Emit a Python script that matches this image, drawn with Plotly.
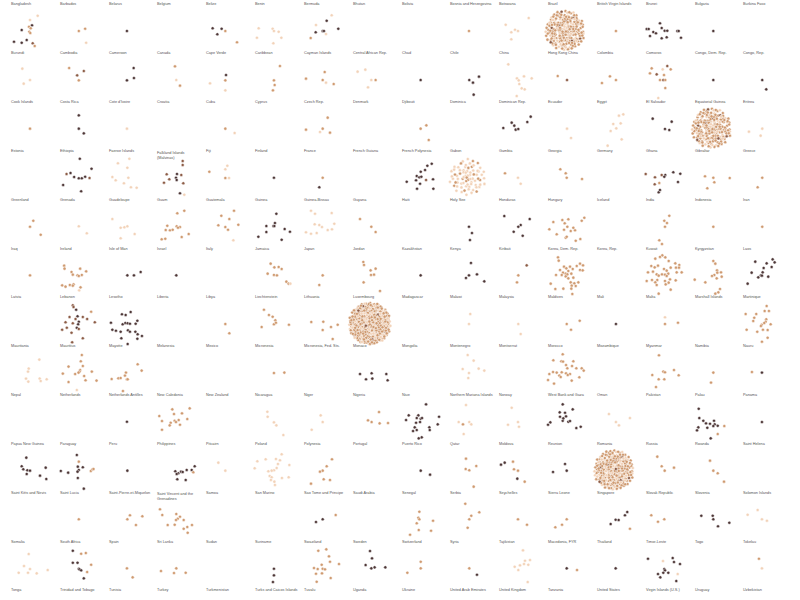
import math
import plotly.graph_objects as go

# ---------------- labels (13 rows x 16 columns) ----------------
NAMES_01 = ["Bangladesh", "Barbados", "Belarus", "Belgium", "Belize", "Benin", "Bermuda", "Bhutan",
            "Bolivia", "Bosnia and Herzegovina", "Botswana", "Brazil", "British Virgin Islands", "Brunei", "Bulgaria", "Burkina Faso"]
NAMES_02 = ["Burundi", "Cambodia", "Cameroon", "Canada", "Cape Verde", "Caribbean", "Cayman Islands", "Central African Rep.",
            "Chad", "Chile", "China", "Hong Kong China", "Colombia", "Comoros", "Congo, Dem. Rep.", "Congo, Rep."]
NAMES_03 = ["Cook Islands", "Costa Rica", "Cote d'Ivoire", "Croatia", "Cuba", "Cyprus", "Czech Rep.", "Denmark",
            "Djibouti", "Dominica", "Dominican Rep.", "Ecuador", "Egypt", "El Salvador", "Equatorial Guinea", "Eritrea"]
NAMES_04 = ["Estonia", "Ethiopia", "Faeroe Islands", "Falkland Islands<br>(Malvinas)", "Fiji", "Finland", "France", "French Guiana",
            "French Polynesia", "Gabon", "Gambia", "Georgia", "Germany", "Ghana", "Gibraltar", "Greece"]
NAMES_05 = ["Greenland", "Grenada", "Guadeloupe", "Guam", "Guatemala", "Guinea", "Guinea-Bissau", "Guyana",
            "Haiti", "Holy See", "Honduras", "Hungary", "Iceland", "India", "Indonesia", "Iran"]
NAMES_06 = ["Iraq", "Ireland", "Isle of Man", "Israel", "Italy", "Jamaica", "Japan", "Jordan",
            "Kazakhstan", "Kenya", "Kiribati", "Korea, Dem. Rep.", "Korea, Rep.", "Kuwait", "Kyrgyzstan", "Laos"]
NAMES_07 = ["Latvia", "Lebanon", "Lesotho", "Liberia", "Libya", "Liechtenstein", "Lithuania", "Luxembourg",
            "Madagascar", "Malawi", "Malaysia", "Maldives", "Mali", "Malta", "Marshall Islands", "Martinique"]
NAMES_08 = ["Mauritania", "Mauritius", "Mayotte", "Melanesia", "Mexico", "Micronesia", "Micronesia, Fed. Sts.", "Monaco",
            "Mongolia", "Montenegro", "Montserrat", "Morocco", "Mozambique", "Myanmar", "Namibia", "Nauru"]
NAMES_09 = ["Nepal", "Netherlands", "Netherlands Antilles", "New Caledonia", "New Zealand", "Nicaragua", "Niger", "Nigeria",
            "Niue", "Northern Mariana Islands", "Norway", "West Bank and Gaza", "Oman", "Pakistan", "Palau", "Panama"]
NAMES_10 = ["Papua New Guinea", "Paraguay", "Peru", "Philippines", "Pitcairn", "Poland", "Polynesia", "Portugal",
            "Puerto Rico", "Qatar", "Moldova", "Reunion", "Romania", "Russia", "Rwanda", "Saint Helena"]
NAMES_11 = ["Saint Kitts and Nevis", "Saint Lucia", "Saint-Pierre-et-Miquelon", "Saint Vincent and the<br>Grenadines", "Samoa",
            "San Marino", "Sao Tome and Principe", "Saudi Arabia",
            "Senegal", "Serbia", "Seychelles", "Sierra Leone", "Singapore", "Slovak Republic", "Slovenia", "Solomon Islands"]
NAMES_12 = ["Somalia", "South Africa", "Spain", "Sri Lanka", "Sudan", "Suriname", "Swaziland", "Sweden",
            "Switzerland", "Syria", "Tajikistan", "Macedonia, FYR", "Thailand", "Timor-Leste", "Togo", "Tokelau"]
NAMES_13 = ["Tonga", "Trinidad and Tobago", "Tunisia", "Turkey", "Turkmenistan", "Turks and Caicos Islands", "Tuvalu", "Uganda",
            "Ukraine", "United Arab Emirates", "United Kingdom", "Tanzania", "United States", "Virgin Islands (U.S.)", "Uruguay", "Uzbekistan"]

# ---------------- dots: (dx, dy, shade) per panel, dy grows downward ----------------
ROW_01 = [
    [(9.7,-14.8,'l'),(2,-10.5,'l'),(4,-5.2,'d'),(1,-3.8,'m'),(-6.3,-0.5,'d'),(2.7,-2.2,'m'),(1.3,1.2,'m'),(2.3,2.5,'m'),
     (-14,11.2,'d'),(-6.3,12.2,'d'),(-1.3,9.5,'d'),(4.7,12.8,'b'),(6.7,15.5,'m')],
    [(2,0.5,'m'),(8.3,-1.8,'m'),(9.3,12.2,'l')],
    [(1.3,0.5,'d')],
    [],
    [(-10.7,-2.2,'d'),(-1.7,-1.8,'d'),(-6,3.8,'d'),(2,0.5,'m'),(13.7,11.8,'m')],
    [(-13.5,-2.2,'l'),(0.5,-1.8,'l'),(1.8,0.5,'l'),(6.5,1.2,'l'),(-15.2,7.2,'l'),(9.2,7.2,'l'),(1.2,12.8,'l')],
    [(10.7,-15.2,'l'),(5.7,-9.8,'d'),(-5,-5.5,'l'),(-5.3,1.8,'d'),(1.7,0.5,'d'),(3,0.5,'d'),(5,3.5,'l'),(17.3,-1.8,'d'),(-10.3,7.5,'m')],
    [],
    [],
    [(1.5,0.5,'m')],
    [(12.4,-12.5,'l'),(-10.6,-5.8,'l'),(-1.3,-0.8,'l'),(1.7,0.5,'l'),(-5,1.8,'l'),(-5,8.8,'l')],
    [],
    [(2,0.5,'m')],
    [(-2.8,-7.2,'d'),(-16.1,-1.5,'d'),(-14.1,-1.5,'d'),(-9.5,1.5,'d'),(-6.8,2.8,'d'),(-1.1,-2.5,'d'),(1.9,0.2,'d'),
     (4.5,0.2,'d'),(14.5,0.5,'d'),(15.9,0.5,'d'),(-12.8,5.5,'d'),(-1.1,7.8,'d'),(3.9,6.8,'d'),(18.2,7.2,'d')],
    [(1.7,0.5,'d')],
    [],
]
ROW_02 = [
    [(-5.7,-10.7,'l'),(2,0.7,'l'),(-4.3,4.3,'l')],
    [(-7.7,-11.3,'m'),(7,-8.3,'b'),(0.3,-4,'b'),(2,1,'m')],
    [(8,-11.3,'d'),(8.3,-1.3,'d'),(1.3,1,'d')],
    [(0.5,-13,'m'),(1.8,0.7,'l'),(5.5,6.3,'m')],
    [(2.7,-4.3,'d'),(2,1,'m'),(-13.3,4,'l'),(2,11,'l')],
    [(7.8,-13.3,'m'),(1.8,1,'m'),(2.5,5.7,'m'),(0.8,11,'m')],
    [(3.7,-7.3,'m'),(-15,-0.7,'m'),(1.7,0.7,'m'),(5,3.3,'l'),(12.7,4.7,'m')],
    [(-4.5,-9.7,'l'),(-12.2,-7.7,'l'),(1.5,0.7,'l'),(5.8,0.7,'m'),(-1.8,8,'l')],
    [(2,0.7,'d')],
    [(1.8,0.7,'d'),(5.5,3.3,'d'),(11.5,-2.7,'d'),(6.2,15.3,'d')],
    [(-8,-15,'l'),(0.7,-1,'l'),(7.7,-3,'l'),(15.4,-1,'l'),(2.4,1,'l'),(3,4.7,'l'),(5.4,9,'l'),(8.4,10,'l'),(0.4,16.7,'l')],
    [(-7.4,-3.3,'m'),(1.9,0.7,'b')],
    [(-4,-3,'m'),(-12,3.7,'m'),(2,0.7,'m')],
    [(4.5,-13.3,'b'),(7.9,-10,'m'),(-0.1,-10,'l'),(-11.1,-11,'m'),(-12.8,-6,'m'),(-6.1,-5,'b'),(1.2,-4.3,'m'),
     (0.5,0.7,'b'),(2.5,0.7,'m'),(-2.8,0.7,'m'),(2.5,8.7,'m'),(-4.5,18.7,'l')],
    [(1.7,0.7,'d')],
    [(1.8,0.7,'d'),(5.8,10,'d')],
]
ROW_03 = [
    [(2,0.5,'m')],
    [(2,-12.8,'d'),(2,0.5,'d'),(7,5.2,'d')],
    [(1.3,0.5,'l')],
    [],
    [(2,0.5,'m'),(11.3,4.8,'l')],
    [],
    [(6.7,-10.5,'m'),(-15,1.5,'m'),(1.7,0.5,'m'),(-1,3.8,'l'),(9,4.5,'m')],
    [],
    [(7.7,-2.8,'m'),(2,0.5,'m'),(10.1,11.8,'m')],
    [],
    [(14.4,-11.5,'d'),(11,-6.2,'d'),(-4.6,-5.5,'d'),(-2,-2.5,'d'),(-13,-0.2,'d'),(-0.6,1.5,'d'),(2,0.8,'d')],
    [(1.9,0.5,'l'),(5.9,9.8,'l')],
    [(9.3,-13.8,'l'),(5,-12.5,'l'),(6.7,-4.8,'l'),(-0.7,-4.2,'l'),(2.3,0.2,'l'),(-3.3,2.8,'l'),(7.7,11.2,'l'),(-6.3,17.5,'l')],
    [(-10.1,-9.5,'d'),(8.9,-6.5,'d'),(2.2,0.8,'d'),(6.5,1.8,'d')],
    [],
    [(1.8,0.5,'l'),(-11.5,3.5,'l'),(0.2,7.5,'l')],
]
ROW_04 = [
    [],
    [(3,-18.3,'d'),(14.7,-8.3,'d'),(-6.3,-4,'d'),(-10.3,-3,'b'),(-2.7,0,'d'),(2,1.3,'d'),(5,1.3,'d'),(8.3,-0.3,'d'),
     (12.7,1,'b'),(-13.7,8,'d'),(4.3,14.3,'d')],
    [(3.7,-18.3,'l'),(-7.7,-13.7,'l'),(1.7,-9.3,'l'),(-13.3,0,'l'),(-10,3.3,'l'),(2.7,0.7,'l'),(-1.7,6.3,'l'),(5.3,10.3,'l'),(11,10.7,'l')],
    [(8.2,-16,'b'),(8.2,-12,'b'),(-7.8,-2.7,'b'),(2.5,-3,'d'),(6.8,-2,'b'),(1.5,0.7,'d'),(-5.2,2.3,'b'),(-10.5,5.7,'b'),
     (2.2,3,'d'),(8.8,6.3,'b'),(5.5,16.3,'d'),(9.8,17.7,'l')],
    [(4,-11.3,'l'),(2,-7.7,'l'),(-14,-5.3,'m'),(2,1,'m'),(5.7,1,'l')],
    [(1.8,0.7,'d')],
    [(1.7,0.7,'m'),(-1.7,10.3,'d')],
    [],
    [(13.1,-13.3,'d'),(8.7,-11.3,'d'),(6.4,-7,'d'),(2.1,-5.3,'d'),(-1.9,-1,'d'),(0.7,0.3,'d'),(2.7,-0.3,'d'),(-11.9,4.7,'d'),
     (-2.6,3.3,'d'),(1.4,6.7,'d'),(14.4,2.3,'d'),(-1.6,11.7,'d'),(14.7,11.7,'d'),(7.4,3,'b')],
    [],
    [(-11.3,-3.7,'m'),(1.7,0.7,'l'),(4.4,6.7,'l')],
    [(-4.8,-7.7,'m'),(0.6,-3.7,'m'),(1.6,0.7,'m'),(16.9,2,'m')],
    [],
    [(10.5,-4.7,'d'),(17.5,-3.3,'d'),(2.5,-2,'d'),(1.5,-0.3,'d'),(-7.8,0.3,'b'),(-17.1,-3,'b'),(-3.5,6,'m'),(-8.1,7.3,'b'),
     (15.2,5,'d'),(-4.1,15.3,'d'),(-2.8,13,'d'),(-1.1,-2,'b')],
    [(-6.6,-0.7,'m'),(1.7,0.7,'m'),(2.7,5.3,'m'),(18.1,1,'m'),(-4.3,11.3,'m')],
    [(1.8,0.7,'m'),(-2.8,10.3,'m')],
]
ROW_05 = [
    [(5.3,-5.1,'m'),(2,0.9,'m'),(12.7,8.9,'m')],
    [(2,0.5,'l'),(10,7.5,'l')],
    [(-13.3,-6.8,'l'),(-5,1.9,'l'),(-1.3,1.5,'l'),(1.7,0.5,'l'),(-5,12.5,'l'),(9,8.2,'l')],
    [(9.8,-15.1,'m'),(2.8,-12.5,'m'),(-7.2,-0.1,'m'),(-4.5,4.5,'m'),(-1.8,3.9,'m'),(2.2,0.5,'m'),(5.5,1.2,'m'),
     (3.5,1.9,'m'),(-8.8,4.2,'m'),(14.2,8.2,'m'),(7.2,11.2,'m'),(-12.8,13.5,'m'),(-9.2,12.9,'m')],
    [(10.7,-15.1,'m'),(-2,-10.1,'m'),(6,-6.8,'m'),(-5,-0.5,'m'),(2,1.2,'m'),(4.7,3.9,'m'),(15,-1.1,'m'),(10,14.5,'l')],
    [(4.2,-12.1,'d'),(2.8,-2.8,'d'),(-5.8,0.2,'d'),(1.2,0.2,'d'),(2.2,0.2,'d'),(12.5,3.2,'d'),(-5.8,6.2,'d'),
     (17.8,5.9,'d'),(-13.8,10.9,'d'),(9.5,13.9,'d')],
    [(-10,-15.1,'l'),(-6,-12.1,'l'),(10.7,-12.8,'l'),(-6.3,-1.5,'l'),(-1.7,-0.8,'l'),(1,1.2,'l'),(6.7,4.2,'l'),
     (11,3.5,'l'),(13.3,-2.1,'l'),(-15,6.5,'l'),(-10,7.9,'l'),(-4.3,7.2,'l')],
    [(-9.8,-6.8,'m'),(1.5,0.9,'m'),(5.8,6.2,'m')],
    [],
    [(1.5,0.9,'d'),(4.5,7.2,'d'),(2.5,14.2,'d')],
    [(-12,-9.8,'d'),(13.4,-6.8,'d'),(4.4,-0.8,'d'),(2,0.9,'d'),(-2.6,5.9,'d'),(6.4,9.9,'d')],
    [(19.2,-8.1,'m'),(16.6,-5.1,'m'),(-2.8,-5.8,'m'),(3.2,-6.5,'m'),(-11.8,-3.8,'m'),(-0.4,-2.5,'m'),(2.2,0.9,'m'),
     (5.6,5.2,'m'),(9.9,4.5,'m'),(-15.8,3.5,'m'),(-8.4,8.5,'m'),(0.6,11.9,'m'),(10.6,14.9,'m'),(15.2,13.2,'m'),
     (1.6,10.9,'m'),(-1.1,3.9,'m'),(8.2,1.9,'m')],
    [],
    [(6.5,-10.1,'m'),(1.5,-5.1,'m'),(4.2,-2.8,'m'),(2.2,0.9,'m'),(-3.5,14.5,'m'),(-0.8,18.2,'m')],
    [(1.7,0.9,'m')],
    [(1.8,0.9,'m')],
]
ROW_06 = [
    [(2,0.7,'m')],
    [(-12.7,-9,'m'),(-12.3,-6,'m'),(3.3,-6,'m'),(9.3,-3.3,'m'),(-5.3,-2.7,'m'),(-4,0,'m'),(0.7,0.7,'m'),(2,1.3,'m'),
     (5,0.3,'m'),(-14.7,10.7,'m'),(-11.3,12,'m'),(-7,10.3,'m'),(-3.3,9.7,'m'),(-4,11,'m'),(3.7,12.7,'m'),(2.3,15.7,'l')],
    [(1.7,0.7,'d'),(8.3,0.7,'d'),(15,-2.7,'d')],
    [(1.8,0.7,'d')],
    [],
    [(-1.5,-11,'m'),(6.5,-7.7,'m'),(2.2,-7.3,'m'),(9.5,-5.7,'m'),(-4.5,-1,'m'),(1.8,0.3,'m'),(4.8,0.7,'m'),
     (14.2,7,'m'),(16.5,9,'m'),(18.2,9,'l')],
    [(1.7,0.7,'m'),(-1.7,10.3,'m')],
    [(-6.5,-12.7,'m'),(-5.8,-9.7,'m'),(5.8,-6,'m'),(0.8,-4.3,'m'),(4.2,0,'m'),(1.2,0.3,'m'),(-6.2,7.7,'m'),(10.2,16.3,'m')],
    [(2,0.7,'d')],
    [(3.5,-11.7,'d'),(1.5,0.7,'d'),(9.5,-0.3,'d'),(-1.5,3.3,'d'),(16.8,6.7,'d')],
    [(10.4,-9.3,'b'),(2,0.7,'m'),(0.7,7.7,'m')],
    [(-7.1,-17.3,'m'),(-6.4,-14,'m'),(14.9,-11,'m'),(17.9,-9.3,'m'),(11.6,-8.7,'m'),(4.9,-8,'m'),(-1.1,-8,'m'),
     (1.2,-6.3,'m'),(7.6,-5.7,'m'),(-5.1,-4.7,'m'),(3.2,-3.7,'m'),(-2.1,-2,'m'),(0.6,-1,'m'),(2.2,-0.3,'m'),
     (6.2,-1,'m'),(-9.1,0.3,'m'),(-3.4,0.3,'m'),(14.9,-4.7,'m'),(17.6,-4.3,'m'),(-14.4,9,'m'),(-9.8,14.3,'m'),
     (-1.8,14,'m'),(5.6,7.7,'m'),(9.2,8.7,'m'),(13.2,7.7,'m'),(6.6,11,'m'),(10.6,11.3,'m'),(6.2,14,'m'),
     (7.2,19.3,'m'),(0.6,1.7,'m'),(8.2,3,'m'),(3.2,3.7,'m')],
    [],
    [(-0.5,-19.3,'m'),(-2.8,-17.7,'m'),(2.5,-17.3,'m'),(-7.5,-16,'m'),(5.9,-13.7,'m'),(12.5,-11.3,'m'),(16.5,-9.7,'m'),
     (-11.5,-8.7,'m'),(-4.8,-9,'m'),(-8.1,-7.3,'m'),(13.2,-7,'m'),(1.2,-5.7,'m'),(7.9,-7,'m'),(16.2,-7,'m'),
     (3.9,-4,'m'),(13.9,-2.3,'m'),(18.9,-2.3,'m'),(-14.8,-2.3,'m'),(-9.8,-3,'m'),(-6.1,-0.3,'m'),(-0.8,-0.3,'m'),
     (2.2,0,'m'),(5.5,-1,'m'),(-4.1,1,'m'),(3.9,1.3,'m'),(-16.1,6.3,'m'),(-10.8,5.3,'m'),(-5.5,5.3,'m'),
     (-7.5,7.7,'m'),(2.2,6.3,'m'),(7.2,4.7,'m'),(12.9,5.7,'m'),(-6.1,10.3,'m'),(2.9,9.7,'m'),(5.9,8,'m'),
     (-4.1,19,'m'),(7.9,15,'m')],
    [(1.7,-13.7,'m'),(3.7,-11,'m'),(5.4,-4.3,'m'),(5.7,-2,'m'),(9.4,-2.3,'m'),(2.7,0.3,'m'),(0.4,1.3,'m'),
     (10.1,2,'m'),(5.1,3.7,'m'),(-16.9,5,'m'),(-6.3,7.7,'m'),(8.4,14.3,'m'),(6.7,17.7,'m'),(3.7,19,'m')],
    [(12.2,-15.3,'d'),(14.2,-12.3,'d'),(-5.2,-13,'d'),(6.2,-11.3,'d'),(11.2,-7.7,'d'),(3.2,-6.7,'d'),(2.2,-2.3,'d'),
     (0.5,0.7,'d'),(1.5,1,'d'),(7.8,2,'d'),(-8.8,-2,'d'),(-2.2,2.7,'d'),(-12.8,9,'d')],
]
ROW_07 = [
    [],
    [(-4,-18.2,'b'),(-3.3,-16.5,'b'),(-0.7,-13.8,'d'),(14.3,-11.8,'m'),(-7.3,-6.5,'b'),(0.7,-7.2,'d'),(6,-6.5,'b'),
     (-1.3,-4.5,'b'),(-11.3,-1.2,'b'),(2,-1.8,'d'),(1.3,0.8,'d'),(10.3,-4.5,'b'),(18,-1.2,'b'),(-4,-0.2,'b'),
     (-10,4.2,'b'),(-14.7,6.2,'b'),(0,4.2,'d'),(2,5.5,'b'),(-5.3,9.2,'b'),(6,14.8,'b'),(-4.7,18.8,'b')],
    [(5,-11.5,'d'),(-3.7,-9.2,'d'),(0,-8.5,'d'),(11.7,-2.8,'d'),(-14.7,-0.8,'d'),(-3,0.8,'d'),(-0.3,-0.5,'d'),
     (2,-0.2,'d'),(4.3,0.2,'d'),(10,0.2,'d'),(-13.3,6.2,'d'),(-9.7,7.2,'d'),(2.3,6.8,'d'),(4.3,8.2,'d'),
     (-5,8.2,'d'),(9.7,8.2,'d'),(12,10.8,'d'),(16.3,12.5,'d'),(-4.3,14.8,'d'),(11.7,15.2,'d'),(2,20.5,'d')],
    [],
    [(2,0.5,'m'),(6,9.8,'m')],
    [(-8.2,-13.8,'m'),(-3.2,-8.5,'m'),(0.5,-6.8,'m'),(3.2,-3.2,'m'),(1.8,0.8,'m'),(3.8,-0.8,'m'),(16.8,1.2,'m'),(-10.5,3.5,'m')],
    [(-9.7,-1.5,'m'),(2.3,-1.8,'m'),(1.7,6.5,'m'),(10,3.5,'m'),(16.7,1.2,'m'),(11.7,15.5,'m')],
    [],
    [],
    [(2.8,-9.5,'l'),(1.5,0.5,'l')],
    [(2,0.5,'l'),(4.4,10.5,'l')],
    [(14.6,-2.8,'m'),(1.6,0.5,'m'),(5.9,6.2,'m')],
    [(2,0.5,'d')],
    [(2.2,-6.2,'l'),(2.2,0.5,'m'),(15.2,-0.8,'m')],
    [],
    [(6.2,-17.5,'m'),(8.5,-12.5,'m'),(4.2,-12.5,'m'),(-4.2,-9.5,'m'),(-14.8,-9.5,'m'),(5.8,-4.2,'m'),(-6.2,-5.8,'m'),
     (-7.2,-2.5,'m'),(5.2,-1.8,'m'),(10.2,0.8,'m'),(1.2,1.2,'m'),(3.8,-0.5,'m'),(0.5,2.5,'m'),(-13.8,6.2,'m'),
     (2.5,6.2,'m'),(7.2,6.5,'m'),(-3.2,8.2,'m'),(7.2,14.2,'m'),(1.5,18.2,'m')],
]
ROW_08 = [
    [(11.3,-12.7,'l'),(0.7,-3.7,'l'),(0,-0.7,'l'),(-2,6.3,'l'),(0.3,9.3,'l'),(11.7,6.3,'l'),(12.7,8.7,'l'),(18.7,7,'l')],
    [(5,-17.3,'m'),(4,-11,'m'),(-8.3,-5.7,'m'),(6,-6.3,'m'),(3.3,-2.3,'m'),(-1.7,1.7,'m'),(2.7,-0.7,'m'),(1.7,0.3,'m'),
     (-14,1.3,'m'),(15,-0.7,'m'),(7.3,3.7,'m'),(-8.3,9.7,'m'),(8.7,8,'m'),(19.7,8.3,'m'),(0,17.7,'l')],
    [(12,-8,'m'),(16,-1.7,'m'),(0.3,0.3,'m'),(-0.7,3.3,'m'),(1.3,7,'m'),(2,7,'m'),(-7.3,6,'m'),(-5,5.7,'m'),
     (-14,6.7,'m'),(-2.7,18.7,'m')],
    [],
    [],
    [(1.8,0.7,'m'),(12.2,0.3,'m')],
    [],
    [(-9.8,1.7,'d'),(1.8,1,'d'),(2.5,6.3,'d'),(-3.8,7,'d'),(16.5,1.7,'d'),(17.8,8,'d')],
    [],
    [(0.2,-17.3,'l'),(6.2,-11.7,'l'),(-4.8,-3.3,'l'),(11.2,-3.7,'l'),(1.5,0.7,'l'),(16.8,-1.7,'l'),(0.8,5.7,'l')],
    [],
    [(-2.4,-18,'m'),(-11.8,-12,'m'),(-3.8,-11,'m'),(-2.1,-10.7,'m'),(8.2,-11,'m'),(0.9,-7.3,'m'),(6.9,-6.3,'m'),
     (11.2,-4,'m'),(2.2,-4,'m'),(16.6,-4,'m'),(18.6,-1.7,'m'),(-12.1,-0.3,'m'),(-8.4,0.3,'m'),(-3.4,0,'m'),
     (0.9,1,'m'),(4.9,1.7,'m'),(2.6,2.7,'m'),(-5.8,3.3,'m'),(-15.8,1.7,'m'),(-17.1,7.7,'m'),(-4.4,4.7,'m'),
     (6.6,8.3,'m'),(14.2,5,'m'),(-11.1,11.3,'m')],
    [],
    [(-3.8,-17,'m'),(0.5,-0.7,'m'),(2.2,0,'m'),(11.2,-2.3,'m'),(-10.5,2.7,'m'),(-4.1,7,'m'),(1.5,7,'m'),(15.9,3,'m'),(-6.8,14.7,'m')],
    [(1.7,0.3,'m'),(-0.6,10.3,'m')],
    [(-8.5,-0.3,'m'),(1.5,0.3,'d')],
]
ROW_09 = [
    [],
    [],
    [(1.3,0.6,'d')],
    [(15.2,-12.8,'m'),(-2.2,-11.8,'m'),(7.5,-7.8,'m'),(-0.5,-7.1,'m'),(-15.2,-5.1,'m'),(12.8,-2.1,'m'),(-12.5,-0.1,'m'),
     (0.2,-0.4,'m'),(1.5,0.9,'m'),(4.2,-1.1,'m'),(-3.8,1.6,'m'),(5.5,3.6,'m'),(-4.8,4.2,'m'),(-12.5,8.6,'m')],
    [],
    [(-4.8,-9.4,'l'),(-4.5,-4.4,'l'),(1.8,1.2,'l'),(4.2,4.2,'l'),(11.2,13.9,'l')],
    [(-0.3,-5.8,'l'),(1.7,0.9,'l'),(-9.3,8.6,'l')],
    [(9.2,-9.1,'m'),(-1.8,-0.8,'m'),(1.8,0.9,'m'),(9.8,2.2,'m'),(18.2,1.9,'m')],
    [(7.4,-16.8,'d'),(-9.9,-5.8,'d'),(-0.3,-5.8,'d'),(-1.9,-3.1,'d'),(2.1,-2.4,'d'),(3.4,-3.1,'d'),(-12.6,-1.1,'d'),
     (-2.6,1.6,'d'),(1.4,0.9,'d'),(20.4,-4.4,'d'),(19.1,3.2,'d'),(-3.9,6.2,'d'),(-1.9,8.9,'d'),(-5.6,9.9,'d'),
     (10.7,6.2,'d'),(11.1,8.9,'d'),(3.1,16.2,'d'),(0.1,17.2,'d')],
    [(-1.5,-16.1,'l'),(-8.8,0.9,'l'),(-4.5,3.2,'m'),(1.8,0.9,'l'),(3.8,3.2,'l'),(-3.8,12.9,'l')],
    [(-4.6,-13.4,'l'),(1.7,0.9,'l'),(-8.3,3.6,'l'),(2.7,5.6,'l')],
    [(-2.4,-16.8,'d'),(7.6,-11.8,'d'),(-5.4,-8.8,'d'),(-0.1,-8.4,'d'),(0.9,-4.8,'d'),(-5.1,-4.4,'d'),(-2.4,-0.4,'d'),
     (3.2,0.6,'d'),(4.9,-0.1,'d'),(-1.8,-2.8,'d'),(-14.8,1.2,'d'),(-17.1,3.6,'d'),(11.2,6.9,'d'),(15.6,5.6,'d')],
    [(-5,-7.1,'l'),(2,0.9,'l'),(5,4.2,'l'),(16,-3.1,'l')],
    [],
    [(-12.9,-12.4,'d'),(-12.3,-3.1,'d'),(-8.3,-0.4,'d'),(-5.6,2.2,'d'),(-1.6,2.6,'d'),(2.4,-0.4,'d'),(3.1,3.2,'d'),
     (6.1,4.6,'d'),(1.7,4.9,'d'),(12.7,4.9,'m'),(-13.3,6.2,'d'),(-14.6,9.2,'d'),(-4.3,6.6,'d'),(6.1,12.9,'m'),(-0.9,17.2,'d')],
    [(1.5,0.9,'d')],
]
ROW_10 = [
    [(-1.7,-12.3,'d'),(-6.3,-3.7,'d'),(-4.7,-0.7,'d'),(-0.7,0.3,'d'),(2,0.7,'d'),(-1.3,4,'d'),(12,5.7,'d'),(17.7,-2.3,'d'),(18.3,9,'d')],
    [(0,-15,'d'),(2,-8.3,'m'),(1,-3.3,'d'),(6,-2.7,'d'),(2,0,'d'),(0.7,1.7,'d'),(-8.7,2.7,'d'),(-16,1,'d'),
     (14,1,'m'),(15.7,-0.7,'m'),(16.7,-1,'m'),(1,8,'d'),(7,18.7,'d')],
    [(1.7,0.7,'d')],
    [(20.2,-3.7,'d'),(12.2,0,'d'),(17.2,0,'d'),(18.8,2.3,'m'),(0.8,1.3,'d'),(3.8,3.3,'d'),(6.5,1.7,'d'),(8.2,2,'d'),
     (2.2,4,'d'),(2.8,9.3,'d'),(11.2,10,'d')],
    [(-5,-7.3,'l'),(2,0.7,'l')],
    [(9.5,-15.7,'l'),(3.8,-11,'l'),(-6.5,-10.7,'l'),(7.8,-9.7,'l'),(-14.8,-8.7,'l'),(5.8,-6,'l'),(17.2,-5,'l'),
     (4.5,-2,'l'),(1.8,0.3,'l'),(-0.5,0.7,'l'),(-3.8,1.3,'l'),(-17.5,-1.7,'l'),(-2.5,6,'l'),(-0.5,7.3,'l'),
     (9.8,8,'l'),(16.5,7.3,'l'),(2.2,11.7,'l'),(2.8,15,'l'),(-1.2,10,'l')],
    [(11,-10.7,'m'),(5.7,-3.7,'m'),(1.7,0.7,'m'),(-1,1.7,'m'),(2.7,9.3,'m'),(9,10,'m'),(-10,13.7,'m')],
    [],
    [(2.1,0.7,'d'),(11.4,4.7,'d')],
    [(-1.5,-11.3,'m'),(8.8,-4,'m'),(-1.8,-1,'m'),(1.8,0.3,'m'),(6.2,16.7,'m')],
    [(-11.6,-7.3,'d'),(-15.3,-5.3,'d'),(-3.3,-8.3,'m'),(-2.3,-0.7,'m'),(1.7,0.7,'m'),(1,8.7,'d'),(8.4,11.7,'m')],
    [(-0.1,-6,'d'),(1.6,0.7,'d'),(-12.1,2,'d')],
    [],
    [(-5.5,-13.3,'m'),(-1.1,-3.7,'m'),(1.9,0.7,'m'),(11.2,-2.3,'m')],
    [(-1.6,-9.3,'m'),(1.7,0.7,'m'),(6.1,3.3,'m'),(12.4,11.7,'m')],
    [],
]
ROW_11 = [
    [],
    [(2,0.5,'m')],
    [(4.3,-3.5,'m'),(16.7,-2.5,'m'),(1.7,0.5,'m'),(10.3,6.2,'m')],
    [(-14.5,-9.5,'m'),(-12.2,-3.8,'m'),(1.8,-4.8,'m'),(5.5,-2.1,'m'),(3.2,-0.1,'m'),(1.5,1.2,'m'),(9.2,1.2,'m'),
     (-6.8,6.2,'m'),(0.2,5.9,'m'),(17.5,6.2,'m'),(12.8,8.2,'m'),(9.2,9.9,'m'),(13.2,13.9,'m')],
    [],
    [],
    [(14.7,-3.8,'m'),(1.7,0.5,'d'),(-5,3.2,'d')],
    [],
    [(0.7,-7.1,'m'),(-0.3,-1.1,'m'),(0.7,0.5,'m'),(14.4,1.9,'m'),(-1.9,4.5,'m'),(0.1,11.2,'m'),(12.4,11.9,'m'),(-8.6,15.9,'m')],
    [(-2.2,-15.1,'m'),(3.8,-3.1,'m'),(11.8,-6.5,'m'),(1.8,0.5,'m'),(0.2,8.9,'m')],
    [(1.7,0.5,'m'),(10.7,5.9,'m')],
    [(1.6,0.5,'m'),(-3.1,5.9,'m'),(-9.8,8.5,'m')],
    [(13.3,-6.8,'d'),(11,-3.5,'d'),(1.7,0.9,'d'),(4.7,1.2,'d'),(-3.3,5.2,'d'),(16,9.9,'m')],
    [(-11.5,-3.5,'m'),(1.5,0.5,'m'),(-4.8,2.9,'m')],
    [(-10.3,-3.1,'d'),(1.1,-3.1,'d'),(1.7,0.5,'d'),(17.7,3.9,'d'),(6.4,7.5,'d')],
    [(-2.8,-8.8,'l'),(-12.8,-4.1,'l'),(1.5,0.5,'l'),(6.5,1.9,'l')],
]
ROW_12 = [
    [(0.7,-13.6,'l'),(-4,-1.6,'l'),(2,1.4,'l'),(0,5.1,'l'),(-9.3,5.1,'l'),(8.7,5.7,'l'),(19.7,2.4,'l')],
    [(-4,-16.9,'d'),(4.3,-13.9,'m'),(9,-14.6,'m'),(-4,-4.9,'d'),(0.7,-4.9,'d'),(14.3,-2.9,'m'),(2,1.1,'d'),
     (2.7,1.7,'d'),(4.3,2.7,'d'),(10.3,4.4,'m'),(7,10.7,'d')],
    [(1.3,0.7,'m'),(7,9.7,'m')],
    [(1.8,0.7,'m'),(-13.5,3.4,'m'),(-0.5,5.4,'m'),(11.2,5.1,'m')],
    [],
    [(1.8,1.1,'d'),(1.8,7.7,'d'),(0.8,14.4,'d')],
    [(5.3,-18.3,'m'),(-2.7,-16.9,'m'),(8,-11.3,'m'),(9,-5.9,'m'),(0.7,-2.9,'m'),(18,-3.6,'m'),(-7,0.4,'m'),
     (-3.3,1.4,'m'),(1.7,1.1,'m'),(4,1.7,'m'),(-5,6.1,'m'),(1,5.7,'m'),(9.7,10.4,'m'),(-4.3,14.1,'m')],
    [(0.2,-16.6,'d'),(2.2,-9.3,'d'),(-4.2,-2.6,'d'),(4.8,-0.3,'d'),(1.5,0.7,'d'),(15.5,-0.3,'d')],
    [(2.1,-5.9,'m'),(2.1,0.7,'m'),(-11.3,5.1,'m')],
    [(1.8,0.7,'m'),(9.5,7.1,'d')],
    [(6.7,-17.3,'l'),(13.7,-7.6,'l'),(8.7,-6.9,'l'),(7.7,-3.6,'l'),(12,-2.9,'l'),(-1.6,-0.9,'l'),(2,2.4,'l'),
     (11.4,14.4,'l'),(3.7,-2.3,'l')],
    [(1.6,0.7,'d'),(11.9,2.4,'m')],
    [(1.7,0.7,'d')],
    [(-14.8,-8.9,'d'),(9.9,-9.6,'d'),(11.2,-5.6,'d'),(17.2,-3.6,'d'),(0.2,-6.6,'l'),(1.5,1.4,'d'),(2.2,2.7,'d'),
     (0.5,5.1,'d'),(5.5,5.1,'d'),(-4.8,6.4,'d'),(14.9,6.4,'l'),(-2.5,9.7,'d'),(13.5,13.4,'d')],
    [],
    [(-1.5,-8.9,'m'),(1.5,0.7,'l')],
]

# dense clouds: number of dots, cloud radius, share of light / brown dots
DENSE_COUNT = {"Brazil": 210, "Equatorial Guinea": 200, "Gabon": 75, "Luxembourg": 430, "Romania": 240}
DENSE_RADIUS = {"Brazil": 20, "Equatorial Guinea": 20, "Gabon": 18.5, "Luxembourg": 21, "Romania": 20}
DENSE_LIGHT = {"Brazil": 0.22, "Equatorial Guinea": 0.22, "Gabon": 0.75, "Luxembourg": 0.25, "Romania": 0.25}
DENSE_BROWN = {"Brazil": 0.05, "Equatorial Guinea": 0.05, "Gabon": 0.0, "Luxembourg": 0.03, "Romania": 0.04}

SHADE_COLORS = {"d": "#4d3636", "b": "#8c5c46", "m": "#cf9a70", "l": "#f2d2b8"}

NAMES = [NAMES_01, NAMES_02, NAMES_03, NAMES_04, NAMES_05, NAMES_06, NAMES_07,
         NAMES_08, NAMES_09, NAMES_10, NAMES_11, NAMES_12, NAMES_13]
ROWS = [ROW_01, ROW_02, ROW_03, ROW_04, ROW_05, ROW_06, ROW_07,
        ROW_08, ROW_09, ROW_10, ROW_11, ROW_12]

# ---------------- layout geometry ----------------
W, H = 800, 600
PITCH = 48.83
CX0, CY0 = 28.0, 30.5          # centre of first cloud (px)
LX0, LY0 = 9.0, 4.5            # first label anchor (px)
UP, DOWN = 28.0, PITCH - 28.0  # cell extent above/below cloud centre


def halton(i, base):
    f, res = 1.0, 0.0
    while i > 0:
        f /= base
        res += f * (i % base)
        i //= base
    return res


def cloud(name):
    """Halton-sequence disc layout for the dense clouds (denser towards the centre)."""
    n = DENSE_COUNT[name]
    R = DENSE_RADIUS[name]
    pts = []
    for i in range(1, n + 1):
        u = halton(i, 2)
        t = 2 * math.pi * halton(i, 3)
        r = R * u ** 0.62
        s = halton(i, 5)
        shade = "l" if s < DENSE_LIGHT[name] else ("b" if s > 1 - DENSE_BROWN[name] else "m")
        pts.append((r * math.cos(t), r * math.sin(t), shade))
    return pts


fig = go.Figure()
layout_axes = {}
annotations = []
k = 0
for r, names in enumerate(NAMES):
    for c, name in enumerate(names):
        lx = LX0 + c * PITCH
        ly = LY0 + r * PITCH
        two_lines = "<br>" in name
        annotations.append(dict(
            text=name, x=lx / W, y=1 - (ly - (2.3 if two_lines else 0)) / H, xref="paper", yref="paper",
            xanchor="left", yanchor="top" if two_lines else "middle",
            showarrow=False, align="left",
            font=dict(family="Arial", size=3.8, color="#555555"),
        ))
        if r >= len(ROWS):
            continue
        key = name.replace("<br>", " ")
        dots = cloud(key) if key in DENSE_COUNT else ROWS[r][c]
        if not dots:
            continue
        k += 1
        cx = CX0 + c * PITCH
        cy = CY0 + r * PITCH
        xa = "xaxis" if k == 1 else f"xaxis{k}"
        ya = "yaxis" if k == 1 else f"yaxis{k}"
        layout_axes[xa] = dict(domain=[(cx - PITCH / 2) / W, (cx + PITCH / 2) / W],
                               range=[-PITCH / 2, PITCH / 2], visible=False, fixedrange=True)
        layout_axes[ya] = dict(domain=[1 - (cy + DOWN) / H, 1 - (cy - UP) / H],
                               range=[DOWN, -UP], visible=False, fixedrange=True)
        fig.add_trace(go.Scatter(
            x=[p[0] for p in dots], y=[p[1] for p in dots], mode="markers",
            xaxis="x" if k == 1 else f"x{k}", yaxis="y" if k == 1 else f"y{k}",
            marker=dict(size=3.1, color=[SHADE_COLORS[p[2]] for p in dots],
                        line=dict(width=0.45, color="white")),
            cliponaxis=False, hoverinfo="skip", showlegend=False,
        ))

fig.update_layout(
    width=W, height=H, margin=dict(l=0, r=0, t=0, b=0),
    paper_bgcolor="white", plot_bgcolor="white",
    annotations=annotations, **layout_axes,
)
fig.write_html("out.html")
